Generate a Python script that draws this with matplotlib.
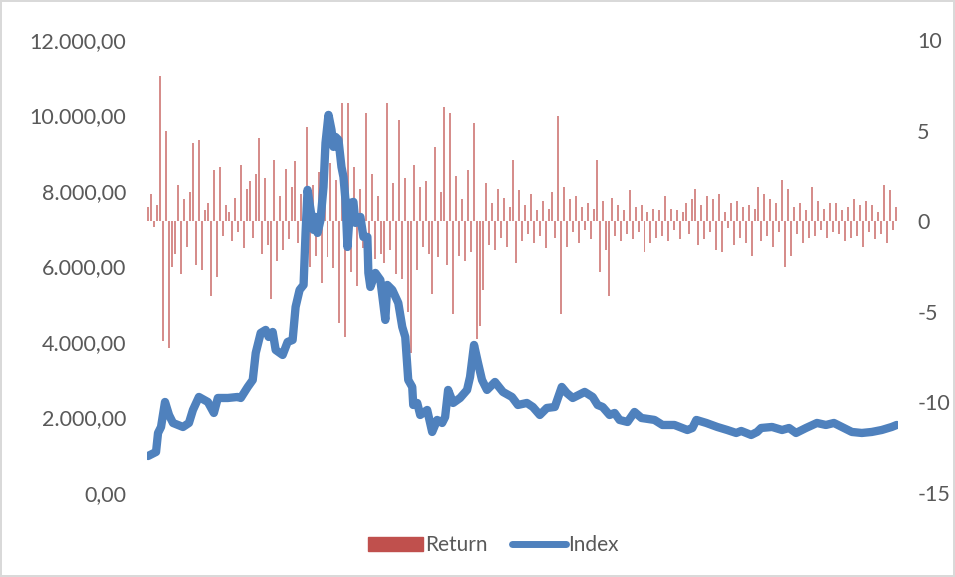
import numpy as np
import matplotlib.pyplot as plt
from matplotlib.patches import Patch
from matplotlib.lines import Line2D

# index level (trading day, value)
index_day = [0, 32, 40, 52, 68, 84, 100, 140, 164, 180,
             204, 240, 264, 280, 320, 360, 372, 400, 420, 432,
             452, 472, 484, 500, 512, 540, 560, 580, 592, 608,
             624, 632, 640, 652, 664, 672, 680, 692, 704, 712,
             724, 736, 744, 752, 764, 776, 784, 792, 800, 812,
             824, 832, 852, 864, 880, 884, 892, 912, 932, 952,
             960, 980, 1004, 1020, 1032, 1044, 1060, 1064, 1080, 1092,
             1120, 1140, 1160, 1180, 1192, 1204, 1224, 1252, 1280, 1292,
             1308, 1324, 1340, 1360, 1392, 1424, 1460, 1484, 1520, 1544,
             1572, 1600, 1632, 1660, 1680, 1704, 1752, 1784, 1804, 1824,
             1852, 1872, 1892, 1924, 1952, 1980, 2032, 2064, 2112, 2164,
             2184, 2200, 2240, 2284, 2324, 2360, 2380, 2420, 2444, 2460,
             2504, 2544, 2572, 2600, 2640, 2684, 2720, 2752, 2784, 2824,
             2864, 2904, 2944, 2984, 3004]
index_val = [980, 1087, 1590, 1749, 2411, 2067, 1855, 1749, 1855, 2199,
             2544, 2411, 2120, 2517, 2517, 2544, 2517, 2809, 2994, 3710,
             4240, 4320, 4134, 4266, 3789, 3657, 4001, 4054, 4929, 5380,
             5512, 6890, 8030, 7500, 6970, 7314, 6890, 7235, 8109, 9275,
             10017, 9620, 9169, 9434, 9355, 8639, 8374, 7765, 6519, 7685,
             7712, 7155, 7314, 6784, 6784, 5830, 5459, 5830, 5645, 4585,
             5512, 5380, 5035, 4399, 4134, 2994, 2809, 2332, 2385, 2067,
             2199, 1617, 1935, 1855, 2014, 2730, 2385, 2517, 2730, 3074,
             3922, 3445, 2994, 2730, 2941, 2677, 2544, 2332, 2385, 2279,
             2067, 2252, 2279, 2809, 2650, 2517, 2677, 2544, 2332, 2279,
             2067, 2120, 1935, 1881, 2146, 1987, 1935, 1802, 1802, 1669,
             1722, 1935, 1855, 1749, 1669, 1590, 1643, 1537, 1617, 1722,
             1749, 1669, 1722, 1590, 1722, 1855, 1802, 1855, 1749, 1617,
             1590, 1617, 1669, 1749, 1802]

# daily return in %, one value every 12 trading days
returns = [0.8, 1.5, -0.3, 0.9, 8.0, -6.6, 5.0, -7.0, -2.5, -1.8,
           2.0, -2.9, 1.2, -1.4, 1.6, 4.3, -2.4, 4.5, -2.7, 0.6,
           1.0, -4.1, 2.8, -3.1, 3.0, -0.8, 0.9, 0.5, -1.1, 1.3,
           -0.6, 3.1, -1.5, 1.8, 2.2, -0.9, 2.6, 4.6, -1.8, 2.4,
           -1.3, -4.3, 3.4, -2.2, 1.4, -1.6, 2.9, -1.0, 1.9, 3.3,
           -1.2, 1.5, -0.8, 5.2, -2.5, 2.0, -1.9, 2.7, -3.4, 1.7,
           -2.0, 3.2, -2.6, 2.3, -5.6, 6.5, -6.4, 6.5, -2.8, 3.0,
           -3.6, 1.8, -1.5, 6.0, -3.2, 2.6, -2.1, 1.4, -1.8, -2.3,
           6.5, -1.6, 2.1, -2.9, 5.6, -3.2, 2.4, -5.0, -7.3, 3.1,
           -2.7, 1.9, -1.4, 2.2, -1.8, -4.0, 4.1, -2.0, 1.6, 6.3,
           -2.4, 6.0, -5.1, 2.5, -1.9, 1.2, -2.2, 2.8, -1.7, 5.4,
           -6.5, -5.8, -3.8, 2.1, -1.3, 1.0, -1.6, 1.8, -0.9, 1.3,
           -1.4, 0.8, 3.4, -2.3, 1.7, -1.1, 0.9, -0.7, 1.5, -1.2,
           0.6, -0.8, 1.1, -1.5, 0.7, 1.6, -0.9, 5.8, -5.1, 1.9,
           -1.4, 1.2, -0.6, 1.4, -1.2, 0.8, -0.5, 1.0, -1.0, 0.7,
           3.4, -2.8, 1.1, -1.6, -4.1, 1.3, -0.8, 0.9, -1.1, 0.6,
           -0.7, 1.7, -1.0, 0.8, -0.6, 0.9, -1.7, 0.5, -1.2, 0.7,
           -0.9, 0.6, -0.8, 1.4, -1.1, 0.7, -0.5, 0.6, -1.0, 0.5,
           1.0, -0.7, 1.2, 1.8, -1.3, 0.9, -1.0, 1.4, -0.6, 1.2,
           -1.6, 1.5, -1.7, 0.5, -0.4, 1.0, -1.3, 1.1, -0.9, 0.8,
           -1.2, 0.9, -1.9, 0.7, 1.9, -1.1, 1.5, -0.8, 1.2, -1.4,
           1.0, -0.6, 2.3, -2.5, 1.8, -1.9, 0.8, -0.7, 1.0, -1.2,
           0.6, -0.9, 1.9, -0.8, 1.1, -0.5, 0.7, -0.9, 1.0, -0.6,
           1.0, -0.7, 0.6, -1.1, 0.8, -0.9, 1.2, -0.8, 0.9, -1.4,
           1.1, -0.6, 0.9, -1.0, 0.5, -0.7, 2.0, -1.2, 1.7, -0.5,
           0.8]
return_day = [12 * i for i in range(len(returns))]

rouge = '#C0504D'
bleu = '#4F81BD'
gris = '#595959'

plt.rcParams['font.family'] = ['Lato', 'DejaVu Sans']
plt.rcParams['axes.unicode_minus'] = False

fig = plt.figure(figsize=(9.55, 5.77), dpi=100)
fig.patch.set_edgecolor('#D9D9D9')
fig.patch.set_linewidth(1.5)

# axe des rendements (droite)
ax_r = fig.add_axes([0.154, 0.1456, 0.786, 0.785])
ax_r.bar(return_day, returns, width=8, color=rouge, alpha=0.65, linewidth=0)
ax_r.set_ylim(-15, 10)
ax_r.set_yticks([-15, -10, -5, 0, 5, 10])

# axe de l'indice (gauche), dessiné par dessus
ax_i = ax_r.twinx()
ax_i.plot(index_day, index_val, color=bleu, linewidth=6, solid_capstyle='round',
          solid_joinstyle='round')
ax_i.set_ylim(0, 12000)
ax_i.set_yticks(range(0, 12001, 2000))
ax_i.set_yticklabels([('{:,.2f}'.format(v)).replace(',', ' ').replace('.', ',').replace(' ', '.')
                      for v in range(0, 12001, 2000)])
ax_i.yaxis.tick_left()
ax_r.yaxis.tick_right()

ax_r.set_xlim(-4, 3008)
for a in (ax_r, ax_i):
    for s in a.spines.values():
        s.set_visible(False)
    a.tick_params(length=0, labelsize=15.5, labelcolor=gris)
    a.set_xticks([])
ax_i.tick_params(pad=15)
ax_r.tick_params(pad=14)

handles = [Patch(color=rouge), Line2D([0], [0], color=bleu, linewidth=5, solid_capstyle='round')]
fig.legend(handles, ['Return', 'Index'], loc='center', bbox_to_anchor=(0.517, 0.055), ncol=2,
           frameon=False, fontsize=15, labelcolor=gris, handlelength=2.6, handletextpad=0.1,
           columnspacing=1.2)

fig.savefig('out.png', dpi=100)
